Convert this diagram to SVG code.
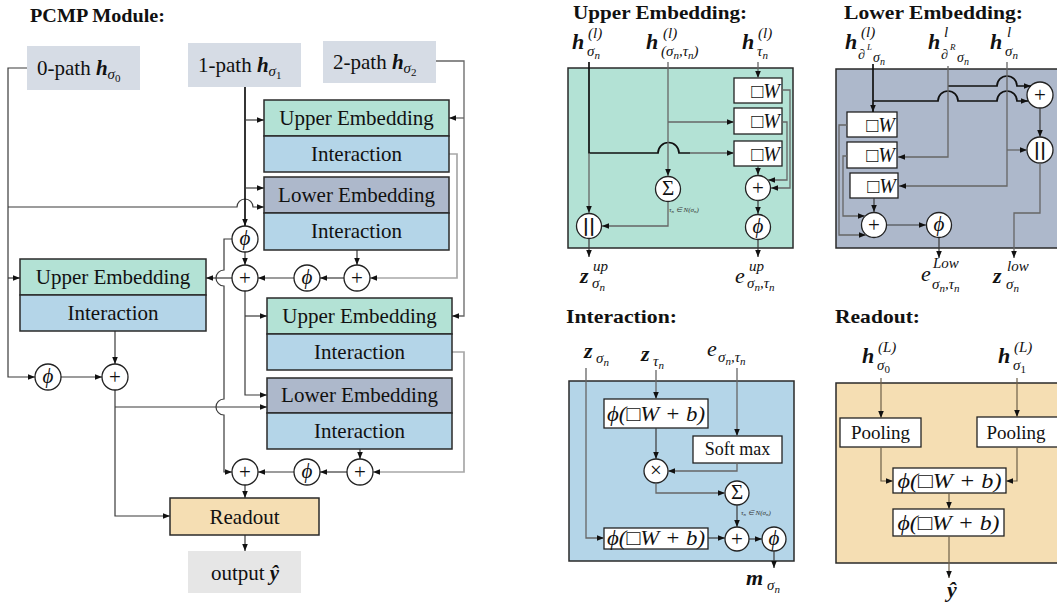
<svg xmlns="http://www.w3.org/2000/svg" width="1057" height="603" viewBox="0 0 1057 603">
<defs>
<marker id="ah" viewBox="0 0 10 8" refX="10" refY="4" markerWidth="7" markerHeight="5.6" markerUnits="userSpaceOnUse" orient="auto"><path d="M0,0 L10,4 L0,8 z" fill="#111"/></marker>
<style>
.t{font-family:"Liberation Serif","Times New Roman",serif;fill:#111}
.title{font-weight:bold;font-size:19px}
.bl{font-size:21px;text-anchor:middle}
.mi{font-family:"Liberation Serif","Times New Roman",serif;font-style:italic;fill:#111}
.bi{font-weight:bold;font-style:italic}
.up{font-style:normal}
.ln{fill:none;stroke:#3a3a3a;stroke-width:1.2}
.lk{fill:none;stroke:#111;stroke-width:1.7}
.lm{fill:none;stroke:#666;stroke-width:1.3}
.lg{fill:none;stroke:#a8a8a8;stroke-width:1.7}
.lr{fill:none;stroke:#6d5f48;stroke-width:1.2}
.a{marker-end:url(#ah)}
.c{fill:#fff;stroke:#222;stroke-width:1.3}
.op{font-family:"Liberation Serif","Times New Roman",serif;font-size:21px;text-anchor:middle;fill:#111}
.cat{font-family:"DejaVu Sans",sans-serif;font-size:17px;font-weight:bold;text-anchor:middle;fill:#111}
.box{stroke:#2a2a2a;stroke-width:1.5}
.ue{fill:#b3e2d5}
.in{fill:#b4d5e8}
.le{fill:#adb8cb}
.pb{fill:#d6dce5}
.wb{fill:#fff;stroke:#222;stroke-width:1.3}
.sm{font-family:"Liberation Serif",serif;font-style:italic;font-size:7px;fill:#333}
</style>
</defs>
<rect width="1057" height="603" fill="#fff"/>

<!-- ================= LEFT: PCMP MODULE ================= -->
<text class="t title" x="30" y="22" textLength="135" lengthAdjust="spacingAndGlyphs">PCMP Module:</text>

<g id="connectors-left">
  <path class="ln a" d="M27,68 H8 V377 H35"/>
  <path class="ln a" d="M8,278 H20"/>
  <path class="ln a" d="M8,207 H237 A8,8 0 0 1 253,207 H264"/>
  <path class="lk a" d="M245,87 V226"/>
  <path class="ln a" d="M245,120 H264"/>
  <path class="ln a" d="M245,188 H264"/>
  <path class="ln a" d="M245,252 V265"/>
  <path class="ln a" d="M232,239 H224 V270 A8,8 0 0 0 224,286 V399 A8,8 0 0 0 224,415 V472 H232"/>
  <path class="ln a" d="M232,278 H206"/>
  <path class="ln a" d="M245,291 V395 H267"/>
  <path class="ln a" d="M245,316 H267"/>
  <path class="lm a" d="M436,61 H464 V316 H452"/>
  <path class="lm a" d="M464,118 H449"/>
  <path class="lg a" d="M449,154 H457 V278 H370"/>
  <path class="ln a" d="M357,250 V265"/>
  <path class="ln a" d="M344,278 H320"/>
  <path class="ln a" d="M294,278 H258"/>
  <path class="lg a" d="M452,352 H464 V472 H373"/>
  <path class="ln a" d="M360,449 V459"/>
  <path class="ln a" d="M347,472 H320"/>
  <path class="ln a" d="M294,472 H258"/>
  <path class="ln a" d="M245,485 V498"/>
  <path class="ln a" d="M245,535 V551"/>
  <path class="ln a" d="M115,331 V364"/>
  <path class="ln a" d="M61,377 H102"/>
  <path class="ln a" d="M115,390 V516 H170"/>
  <path class="ln a" d="M115,407 H267"/>
</g>

<g id="path0">
  <rect class="pb" x="27" y="46" width="113" height="44"/>
  <text class="t" x="37" y="75" font-size="21">0-path <tspan class="bi">h</tspan><tspan font-style="italic" font-size="15" dy="4">σ</tspan><tspan font-size="11" dy="3">0</tspan></text>
</g>
<g id="path1">
  <rect class="pb" x="188" y="43" width="113" height="44"/>
  <text class="t" x="198" y="72" font-size="21">1-path <tspan class="bi">h</tspan><tspan font-style="italic" font-size="15" dy="4">σ</tspan><tspan font-size="11" dy="3">1</tspan></text>
</g>
<g id="path2">
  <rect class="pb" x="323" y="41" width="113" height="42"/>
  <text class="t" x="333" y="69" font-size="21">2-path <tspan class="bi">h</tspan><tspan font-style="italic" font-size="15" dy="4">σ</tspan><tspan font-size="11" dy="3">2</tspan></text>
</g>

<g id="upper-emb-1">
  <rect class="box ue" x="264" y="100" width="185" height="36"/>
  <text class="t bl" x="356.5" y="125">Upper Embedding</text>
</g>
<g id="interaction-1">
  <rect class="box in" x="264" y="136" width="185" height="36"/>
  <text class="t bl" x="356.5" y="161">Interaction</text>
</g>
<g id="lower-emb-1">
  <rect class="box le" x="264" y="177" width="185" height="36"/>
  <text class="t bl" x="356.5" y="202">Lower Embedding</text>
</g>
<g id="interaction-2">
  <rect class="box in" x="264" y="213" width="185" height="37"/>
  <text class="t bl" x="356.5" y="238">Interaction</text>
</g>
<g id="upper-emb-left">
  <rect class="box ue" x="20" y="259" width="186" height="36"/>
  <text class="t bl" x="113" y="284">Upper Embedding</text>
</g>
<g id="interaction-left">
  <rect class="box in" x="20" y="295" width="186" height="36"/>
  <text class="t bl" x="113" y="320">Interaction</text>
</g>
<g id="upper-emb-2">
  <rect class="box ue" x="267" y="298" width="185" height="36"/>
  <text class="t bl" x="359.5" y="323">Upper Embedding</text>
</g>
<g id="interaction-3">
  <rect class="box in" x="267" y="334" width="185" height="36"/>
  <text class="t bl" x="359.5" y="359">Interaction</text>
</g>
<g id="lower-emb-2">
  <rect class="box le" x="267" y="378" width="185" height="35"/>
  <text class="t bl" x="359.5" y="402">Lower Embedding</text>
</g>
<g id="interaction-4">
  <rect class="box in" x="267" y="413" width="185" height="36"/>
  <text class="t bl" x="359.5" y="438">Interaction</text>
</g>
<g id="readout">
  <rect class="box" fill="#f5deb3" x="170" y="498" width="149" height="37"/>
  <text class="t bl" x="244.5" y="524">Readout</text>
</g>
<g id="output">
  <rect fill="#e6e6e6" x="188" y="551" width="113" height="42"/>
  <text class="t bl" x="245" y="580">output <tspan class="bi">ŷ</tspan></text>
</g>

<g id="phi-1"><circle class="c" cx="245" cy="239" r="13"/><text class="op" font-style="italic" x="245" y="245">ϕ</text></g>
<g id="plus-1"><circle class="c" cx="245" cy="278" r="13"/><text class="op" x="245" y="285">+</text></g>
<g id="plus-2"><circle class="c" cx="357" cy="278" r="13"/><text class="op" x="357" y="285">+</text></g>
<g id="phi-2"><circle class="c" cx="307" cy="278" r="13"/><text class="op" font-style="italic" x="307" y="284">ϕ</text></g>
<g id="phi-left"><circle class="c" cx="48" cy="377" r="13"/><text class="op" font-style="italic" x="48" y="383">ϕ</text></g>
<g id="plus-left"><circle class="c" cx="115" cy="377" r="13"/><text class="op" x="115" y="384">+</text></g>
<g id="plus-3"><circle class="c" cx="245" cy="472" r="13"/><text class="op" x="245" y="479">+</text></g>
<g id="phi-4"><circle class="c" cx="307" cy="472" r="13"/><text class="op" font-style="italic" x="307" y="478">ϕ</text></g>
<g id="plus-4"><circle class="c" cx="360" cy="472" r="13"/><text class="op" x="360" y="479">+</text></g>

<!-- ================= UPPER EMBEDDING DETAIL ================= -->
<text class="t title" x="573" y="19" textLength="174" lengthAdjust="spacingAndGlyphs">Upper Embedding:</text>
<g id="upper-detail">
  <rect class="box" fill="#b3e2d5" x="568" y="68" width="225" height="180"/>
  <text class="mi"><tspan class="bi" x="572" y="49" font-size="22">h</tspan><tspan x="588" y="38" font-size="15">(l)</tspan><tspan x="587" y="56" font-size="15">σ</tspan><tspan font-size="11" dy="3">n</tspan></text>
  <text class="mi"><tspan class="bi" x="646" y="49" font-size="22">h</tspan><tspan x="663" y="38" font-size="15">(l)</tspan><tspan x="661" y="56" font-size="15">(σ</tspan><tspan font-size="11" dy="3">n</tspan><tspan font-size="15" dy="-3">,τ</tspan><tspan font-size="11" dy="3">n</tspan><tspan font-size="15" dy="-3">)</tspan></text>
  <text class="mi"><tspan class="bi" x="742" y="49" font-size="22">h</tspan><tspan x="758" y="38" font-size="15">(l)</tspan><tspan x="757" y="56" font-size="15">τ</tspan><tspan font-size="11" dy="3">n</tspan></text>
  <g id="up-w1"><rect class="wb" x="734" y="78" width="48" height="25"/><text class="mi" font-size="20" text-anchor="end" x="780" y="98">□W</text></g>
  <g id="up-w2"><rect class="wb" x="734" y="108" width="48" height="26"/><text class="mi" font-size="20" text-anchor="end" x="780" y="128">□W</text></g>
  <g id="up-w3"><rect class="wb" x="734" y="141" width="48" height="25"/><text class="mi" font-size="20" text-anchor="end" x="780" y="161">□W</text></g>
  <g id="up-sum"><circle class="c" cx="668" cy="189" r="12.5"/><text class="op" font-size="18" x="668" y="195">Σ</text></g>
  <text class="sm" x="669" y="212">τ<tspan font-size="5" dy="1">n</tspan><tspan dy="-1"> ∈ N(σ</tspan><tspan font-size="5" dy="1">n</tspan><tspan dy="-1">)</tspan></text>
  <g id="up-cat"><circle class="c" cx="589" cy="226" r="12.5"/><text class="cat" x="589" y="232">||</text></g>
  <g id="up-plus"><circle class="c" cx="758" cy="188" r="12.5"/><text class="op" x="758" y="195">+</text></g>
  <g id="up-phi"><circle class="c" cx="758" cy="227" r="12.5"/><text class="op" font-style="italic" x="758" y="233">ϕ</text></g>
  <text class="mi"><tspan class="bi" x="580" y="283" font-size="22">z</tspan><tspan x="593" y="271" font-size="15">up</tspan><tspan x="592" y="288" font-size="15">σ</tspan><tspan font-size="11" dy="3">n</tspan></text>
  <text class="mi"><tspan x="735" y="283" font-size="22">e</tspan><tspan x="749" y="271" font-size="15">up</tspan><tspan x="747" y="288" font-size="15">σ</tspan><tspan font-size="11" dy="3">n</tspan><tspan font-size="15" dy="-3">,τ</tspan><tspan font-size="11" dy="3">n</tspan></text>
</g>
<g id="connectors-upper">
  <path class="lk" d="M589,62 V153 H658 A10.5,10.5 0 0 1 679,153 H690"/>
  <path class="lm a" d="M690,153 H734"/>
  <path class="lm a" d="M589,153 V213"/>
  <path class="lm a" d="M668,62 V176"/>
  <path class="lm a" d="M668,122 H734"/>
  <path class="lm a" d="M758,62 V78"/>
  <path class="lm a" d="M782,90 H790 V188 H771"/>
  <path class="lm a" d="M782,122 H787 V180 H768"/>
  <path class="ln a" d="M758,166 V175"/>
  <path class="ln a" d="M758,200 V214"/>
  <path class="ln a" d="M758,240 V257"/>
  <path class="lm a" d="M668,202 V226 H602"/>
  <path class="ln a" d="M589,239 V257"/>
</g>

<!-- ================= LOWER EMBEDDING DETAIL ================= -->
<text class="t title" x="844" y="19" textLength="179" lengthAdjust="spacingAndGlyphs">Lower Embedding:</text>
<g id="lower-detail">
  <rect class="box" fill="#adb8cb" x="836" y="69" width="230" height="179"/>
  <text class="mi"><tspan class="bi" x="845" y="49" font-size="22">h</tspan><tspan x="861" y="37" font-size="15">(l)</tspan><tspan x="858" y="59" font-size="14">∂</tspan><tspan x="867" y="50" font-size="9">L</tspan><tspan x="873" y="62" font-size="14">σ</tspan><tspan font-size="10" dy="3">n</tspan></text>
  <text class="mi"><tspan class="bi" x="928" y="49" font-size="22">h</tspan><tspan x="944" y="37" font-size="15">l</tspan><tspan x="941" y="59" font-size="14">∂</tspan><tspan x="950" y="50" font-size="9">R</tspan><tspan x="957" y="62" font-size="14">σ</tspan><tspan font-size="10" dy="3">n</tspan></text>
  <text class="mi"><tspan class="bi" x="990" y="49" font-size="22">h</tspan><tspan x="1007" y="37" font-size="15">l</tspan><tspan x="1005" y="56" font-size="15">σ</tspan><tspan font-size="11" dy="3">n</tspan></text>
  <g id="low-w1"><rect class="wb" x="847" y="112" width="50" height="25"/><text class="mi" font-size="20" text-anchor="end" x="895" y="132">□W</text></g>
  <g id="low-w2"><rect class="wb" x="847" y="142" width="50" height="26"/><text class="mi" font-size="20" text-anchor="end" x="895" y="162">□W</text></g>
  <g id="low-w3"><rect class="wb" x="850" y="173" width="48" height="25"/><text class="mi" font-size="20" text-anchor="end" x="896" y="193">□W</text></g>
  <g id="low-plus-a"><circle class="c" cx="1040" cy="95" r="13"/><text class="op" x="1040" y="102">+</text></g>
  <g id="low-cat"><circle class="c" cx="1040" cy="150" r="13"/><text class="cat" x="1040" y="156">||</text></g>
  <g id="low-plus-b"><circle class="c" cx="874" cy="225" r="12.5"/><text class="op" x="874" y="232">+</text></g>
  <g id="low-phi"><circle class="c" cx="939" cy="225" r="12.5"/><text class="op" font-style="italic" x="939" y="231">ϕ</text></g>
  <text class="mi"><tspan x="921" y="281" font-size="22">e</tspan><tspan x="933" y="268" font-size="15">Low</tspan><tspan x="932" y="289" font-size="15">σ</tspan><tspan font-size="11" dy="3">n</tspan><tspan font-size="15" dy="-3">,τ</tspan><tspan font-size="11" dy="3">n</tspan></text>
  <text class="mi"><tspan class="bi" x="993" y="283" font-size="22">z</tspan><tspan x="1007" y="271" font-size="15">low</tspan><tspan x="1006" y="289" font-size="15">σ</tspan><tspan font-size="11" dy="3">n</tspan></text>
</g>
<g id="connectors-lower">
  <path class="lk a" d="M873,64 V112"/>
  <path class="lk a" d="M873,101 H938 A10,10 0 0 1 958,101 H997 A10,10 0 0 1 1017,101 H1028"/>
  <path class="lk a" d="M948,86 H997 A10,10 0 0 1 1017,86 H1031"/>
  <path class="lm a" d="M948,66 V157 H898"/>
  <path class="lm a" d="M1007,62 V186 H899"/>
  <path class="lm a" d="M1007,150 H1027"/>
  <path class="ln a" d="M1040,108 V137"/>
  <path class="lm a" d="M1040,163 V213 H1014 V258"/>
  <path class="lm a" d="M847,125 H839 V235 H866"/>
  <path class="lm a" d="M847,156 H843 V216 H865"/>
  <path class="ln a" d="M874,198 V212"/>
  <path class="ln a" d="M887,225 H926"/>
  <path class="ln a" d="M939,238 V258"/>
</g>

<!-- ================= INTERACTION DETAIL ================= -->
<text class="t title" x="566" y="323" textLength="111" lengthAdjust="spacingAndGlyphs">Interaction:</text>
<g id="interaction-detail">
  <rect class="box" fill="#b4d5e8" x="569" y="381" width="225" height="180"/>
  <text class="mi"><tspan class="bi" x="584" y="358" font-size="22">z</tspan><tspan x="596" y="363" font-size="15">σ</tspan><tspan font-size="11" dy="3">n</tspan></text>
  <text class="mi"><tspan class="bi" x="641" y="361" font-size="22">z</tspan><tspan x="653" y="366" font-size="15">τ</tspan><tspan font-size="11" dy="3">n</tspan></text>
  <text class="mi"><tspan x="707" y="356" font-size="22">e</tspan><tspan x="718" y="362" font-size="15">σ</tspan><tspan font-size="11" dy="3">n</tspan><tspan font-size="15" dy="-3">,τ</tspan><tspan font-size="11" dy="3">n</tspan></text>
  <g id="int-fc1"><rect class="wb" x="604" y="399" width="104" height="29"/><text class="mi" font-size="21" text-anchor="middle" x="656" y="421" textLength="98" lengthAdjust="spacingAndGlyphs">ϕ(□W + b)</text></g>
  <g id="int-softmax"><rect class="wb" x="693" y="436" width="89" height="27"/><text class="t" font-size="18" text-anchor="middle" x="737.5" y="455">Soft max</text></g>
  <g id="int-mul"><circle class="c" cx="656" cy="471" r="12"/><text class="op" font-size="18" x="656" y="477">×</text></g>
  <g id="int-sum"><circle class="c" cx="737" cy="493" r="12"/><text class="op" font-size="18" x="737" y="499">Σ</text></g>
  <text class="sm" x="741" y="515">τ<tspan font-size="5" dy="1">n</tspan><tspan dy="-1"> ∈ N(σ</tspan><tspan font-size="5" dy="1">n</tspan><tspan dy="-1">)</tspan></text>
  <g id="int-fc2"><rect class="wb" x="604" y="528" width="104" height="21"/><text class="mi" font-size="21" text-anchor="middle" x="656" y="545" textLength="98" lengthAdjust="spacingAndGlyphs">ϕ(□W + b)</text></g>
  <g id="int-plus"><circle class="c" cx="737" cy="539" r="12"/><text class="op" x="737" y="546">+</text></g>
  <g id="int-phi"><circle class="c" cx="774" cy="539" r="12"/><text class="op" font-style="italic" x="774" y="545">ϕ</text></g>
  <text class="mi"><tspan class="bi" x="746" y="585" font-size="22">m</tspan><tspan x="767" y="590" font-size="15">σ</tspan><tspan font-size="11" dy="3">n</tspan></text>
</g>
<g id="connectors-interaction">
  <path class="lm a" d="M586,368 V538 H604"/>
  <path class="lm a" d="M656,370 V399"/>
  <path class="lm a" d="M737,368 V436"/>
  <path class="ln a" d="M656,428 V459"/>
  <path class="lm a" d="M737,463 V471 H668"/>
  <path class="lm a" d="M656,483 V493 H725"/>
  <path class="ln a" d="M737,505 V527"/>
  <path class="ln a" d="M708,538 H725"/>
  <path class="ln a" d="M749,539 H762"/>
  <path class="ln a" d="M774,551 V568"/>
</g>

<!-- ================= READOUT DETAIL ================= -->
<text class="t title" x="835" y="323" textLength="85" lengthAdjust="spacingAndGlyphs">Readout:</text>
<g id="readout-detail">
  <rect class="box" fill="#f5deb3" x="836" y="383" width="230" height="180"/>
  <text class="mi"><tspan class="bi" x="862" y="363" font-size="22">h</tspan><tspan x="878" y="352" font-size="15">(L)</tspan><tspan x="877" y="370" font-size="15">σ</tspan><tspan class="up" font-size="11" dy="3">0</tspan></text>
  <text class="mi"><tspan class="bi" x="998" y="363" font-size="22">h</tspan><tspan x="1014" y="352" font-size="15">(L)</tspan><tspan x="1013" y="370" font-size="15">σ</tspan><tspan class="up" font-size="11" dy="3">1</tspan></text>
  <g id="ro-pool1"><rect class="wb" x="840" y="418" width="81" height="29"/><text class="t" font-size="19" text-anchor="middle" x="880.5" y="439">Pooling</text></g>
  <g id="ro-pool2"><rect class="wb" x="977" y="417" width="84" height="30"/><text class="t" font-size="19" text-anchor="middle" x="1016" y="439">Pooling</text></g>
  <g id="ro-fc1"><rect class="wb" x="893" y="468" width="113" height="25"/><text class="mi" font-size="21" text-anchor="middle" x="949.5" y="488" textLength="104" lengthAdjust="spacingAndGlyphs">ϕ(□W + b)</text></g>
  <g id="ro-fc2"><rect class="wb" x="893" y="509" width="111" height="27"/><text class="mi" font-size="21" text-anchor="middle" x="948.5" y="530" textLength="102" lengthAdjust="spacingAndGlyphs">ϕ(□W + b)</text></g>
  <text class="mi bi" font-size="22" text-anchor="middle" x="952" y="597">ŷ</text>
</g>
<g id="connectors-readout">
  <path class="lr a" d="M881,378 V418"/>
  <path class="lr a" d="M881,447 V481 H893"/>
  <path class="lr a" d="M1017,378 V417"/>
  <path class="lr a" d="M1017,447 V481 H1006"/>
  <path class="lr a" d="M949,493 V509"/>
  <path class="lr a" d="M949,536 V578"/>
</g>
</svg>
